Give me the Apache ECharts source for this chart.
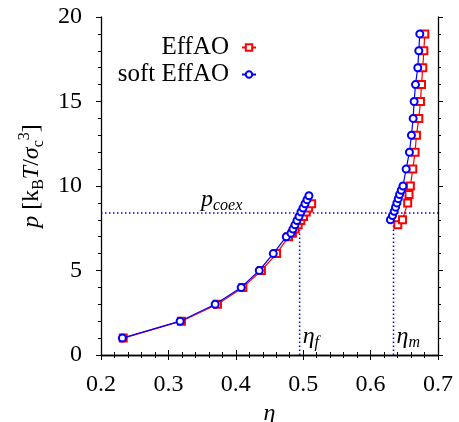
<!DOCTYPE html>
<html><head><meta charset="utf-8">
<script src="https://cdn.jsdelivr.net/npm/echarts@6/dist/echarts.min.js"></script>
<style>html,body{margin:0;padding:0;background:#fff}#c{width:459px;height:422px}</style>
</head><body><div id="c"></div>
<script>
// EffAO (red squares)
const effaoFluidEta = [0.233,0.3193,0.3728,0.4105,0.438,0.4605,0.4783,0.484,0.488,0.4925,0.4965,0.5005,0.5045,0.508,0.5125];
const effaoFluidP   = [1,2,3,4,5,6,7,7.21,7.45,7.7,7.96,8.2,8.46,8.7,8.95];
const effaoSolidEta = [0.6403,0.6473,0.655,0.657,0.659,0.6626,0.666,0.668,0.6715,0.674,0.6755,0.6774,0.679,0.6804];
const effaoSolidP   = [7.7,8.0,9.0,9.5,10,11,12,13,14,15,16,17,18,19];
// soft EffAO (blue circles)
const softFluidEta = [0.2317,0.3174,0.3694,0.408,0.4348,0.4556,0.4749,0.4819,0.4848,0.4878,0.4908,0.4938,0.4967,0.4997,0.5027,0.5056,0.5085];
const softFluidP   = [1,2,3,4,5,6,7,7.21,7.45,7.7,7.96,8.2,8.46,8.7,8.95,9.19,9.42];
const softSolidEta = [0.6294,0.6325,0.635,0.637,0.639,0.641,0.643,0.6455,0.648,0.6527,0.6576,0.6606,0.6631,0.6646,0.6666,0.670,0.6715,0.673];
const softSolidP   = [8.0,8.25,8.5,8.75,9.0,9.25,9.5,9.75,10,11,12,13,14,15,16,17,18,19];
// coexistence values
const pCoex = 8.4;
const etaF = 0.4947, etaFTop = 7.4;
const etaM = 0.634, etaMTop = 7.7;
// tick labels
const xTickLabels = ['0.2','0.3','0.4','0.5','0.6','0.7'];
const yTickLabels = ['0','5','10','15','20'];

const FONT = 'Liberation Serif';
const RED = '#ff0000', BLUE = '#0000ff';

function branches(e1,p1,e2,p2){
  const d = e1.map((e,i)=>[e,p1[i]]);
  d.push([null,null]);
  return d.concat(e2.map((e,i)=>[e,p2[i]]));
}

const chart = echarts.init(document.getElementById('c'), null, {renderer:'canvas'});

const axisCommon = {
  axisLine:{show:true, lineStyle:{color:'#000', width:1.3}},
  axisTick:{show:true, inside:false, length:5, lineStyle:{color:'#000', width:1}},
  minorTick:{show:true, splitNumber:5, length:3, lineStyle:{color:'#000', width:1}},
  splitLine:{show:false}
};

const xAx = {
  type:'value', min:0.2, max:0.7, interval:0.1
};
const yAx = {
  type:'value', min:0, max:20, interval:5
};

const dotted = {color:BLUE, width:1.5, type:[1.5,2.5]};

chart.setOption({
  animation:false,
  backgroundColor:'#fff',
  grid:{left:101, right:21, top:17, bottom:67, containLabel:false, outerBoundsMode:'none'},
  legend:[
    {data:['EffAO'], orient:'vertical', right:197, top:30, align:'right',
     itemWidth:14, itemHeight:8, textStyle:{fontFamily:FONT, fontSize:25, color:'#000', padding:[0,8,0,0]}},
    {data:['soft EffAO'], orient:'vertical', right:197, top:57, align:'right',
     itemWidth:14, itemHeight:8, textStyle:{fontFamily:FONT, fontSize:25, color:'#000', padding:[0,8,0,0]}}
  ],
  xAxis:[
    Object.assign({}, xAx, axisCommon, {position:'bottom',
      axisLabel:{fontFamily:FONT, fontSize:24, color:'#000', margin:18,
        formatter:(v)=>{const i=Math.round((v-0.2)/0.1); return xTickLabels[i]!==undefined?xTickLabels[i]:'';}},
      name:'η', nameLocation:'middle', nameGap:43,
      nameTextStyle:{fontFamily:FONT, fontSize:24, fontStyle:'italic', color:'#000'}}),
    Object.assign({}, xAx, axisCommon, {position:'top', axisLabel:{show:false}})
  ],
  yAxis:[
    Object.assign({}, yAx, axisCommon, {position:'left',
      axisLabel:{fontFamily:FONT, fontSize:24, color:'#000', margin:19,
        formatter:(v)=>{const i=Math.round(v/5); return yTickLabels[i]!==undefined?yTickLabels[i]:'';}},
      name:'{it|p} {rm|[k}{sub|B}{it|T}{rm|/}{it|σ}{sub|c}{sup|3}{rm|]}',
      nameLocation:'middle', nameRotate:90, nameGap:52,
      nameTextStyle:{fontFamily:FONT, fontSize:24, color:'#000', padding:[0,0,0,20],
        rich:{
          it:{fontFamily:FONT, fontSize:24, fontStyle:'italic', color:'#000', lineHeight:30, verticalAlign:'middle'},
          rm:{fontFamily:FONT, fontSize:24, color:'#000', lineHeight:30, verticalAlign:'middle'},
          sub:{fontFamily:FONT, fontSize:16, color:'#000', lineHeight:16, verticalAlign:'bottom'},
          sup:{fontFamily:FONT, fontSize:16, color:'#000', lineHeight:16, verticalAlign:'top'}
        }}}),
    Object.assign({}, yAx, axisCommon, {position:'right', axisLabel:{show:false}})
  ],
  series:[
    {name:'pcoex', type:'line', data:[[0.2,pCoex],[0.7,pCoex]], symbol:'none', lineStyle:dotted, silent:true, z:1},
    {name:'etaf', type:'line', data:[[etaF,0],[etaF,etaFTop]], symbol:'none', lineStyle:dotted, silent:true, z:1},
    {name:'etam', type:'line', data:[[etaM,0],[etaM,etaMTop]], symbol:'none', lineStyle:dotted, silent:true, z:1},
    {name:'EffAO', type:'line', data:branches(effaoFluidEta,effaoFluidP,effaoSolidEta,effaoSolidP),
     connectNulls:false, symbol:'emptyRect', symbolSize:7, showAllSymbol:true,
     color:RED, lineStyle:{color:RED, width:1.2}, itemStyle:{color:RED, borderColor:RED, borderWidth:1}, z:2},
    {name:'soft EffAO', type:'line', data:branches(softFluidEta,softFluidP,softSolidEta,softSolidP),
     connectNulls:false, symbol:'emptyCircle', symbolSize:7, showAllSymbol:true,
     color:BLUE, lineStyle:{color:BLUE, width:1.2}, itemStyle:{color:BLUE, borderColor:BLUE, borderWidth:1}, z:3}
  ]
});

const rich = {
  it:{fontFamily:FONT, fontSize:24, fontStyle:'italic', fill:'#000', lineHeight:28, verticalAlign:'middle'},
  sub:{fontFamily:FONT, fontSize:16, fontStyle:'italic', fill:'#000', lineHeight:16, verticalAlign:'bottom'}
};
const pc = chart.convertToPixel({xAxisIndex:0, yAxisIndex:0}, [0.2, pCoex]);
const pf = chart.convertToPixel({xAxisIndex:0, yAxisIndex:0}, [etaF, 0]);
const pm = chart.convertToPixel({xAxisIndex:0, yAxisIndex:0}, [etaM, 0]);
chart.setOption({
  graphic:[
    {type:'text', x:pc[0]+100, y:pc[1]+1, style:{text:'{it|p}{sub|coex}', rich:rich, align:'left', verticalAlign:'bottom'}},
    {type:'text', x:pf[0]+3, y:pf[1]-4, style:{text:'{it|η}{sub|f}', rich:rich, align:'left', verticalAlign:'bottom'}},
    {type:'text', x:pm[0]+3, y:pm[1]-4, style:{text:'{it|η}{sub|m}', rich:rich, align:'left', verticalAlign:'bottom'}}
  ]
});
</script>
</body></html>
